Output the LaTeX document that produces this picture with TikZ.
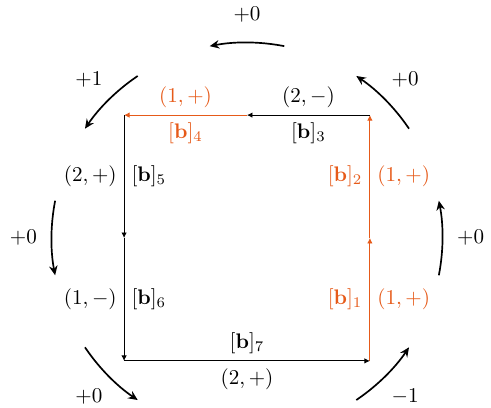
\documentclass[tikz,border=0pt]{standalone}
\usepackage{amsmath}
\usepackage{amssymb}
\usepackage{tikz}
\usetikzlibrary{arrows.meta}
\definecolor{hl}{RGB}{230,90,25}
\def\bb#1{[\mathbf{b}]_{#1}}

\begin{document}
\begin{tikzpicture}[
    seg/.style={-{Latex[length=2.6pt,width=2.6pt]}},
    turn/.style={thick,-{Stealth[length=4.5pt,width=4pt]}},
  ]
  \useasboundingbox (-4.12,-2.82) rectangle (4.07,3.97);

  \coordinate (br) at ( 2.05,-2.05);
  \coordinate (rm) at ( 2.05, 0);
  \coordinate (tr) at ( 2.05, 2.05);
  \coordinate (tm) at ( 0, 2.05);
  \coordinate (tl) at (-2.05, 2.05);
  \coordinate (lm) at (-2.05, 0);
  \coordinate (bl) at (-2.05,-2.05);

  \draw[seg,hl] (br) -- (rm) node[midway,left] (b1) {$\bb1$} node[midway,right] (s1) {$(1,+)$}; % 1
  \draw[seg,hl] (rm) -- (tr) node[midway,left] (b2) {$\bb2$} node[midway,right] (s2) {$(1,+)$}; % 2
  \draw[seg] (tr) -- (tm) node[midway,above] (s3) {$(2,-)$} node[midway,below] (b3) {$\bb3$}; % 3
  \draw[seg,hl] (tm) -- (tl) node[midway,above] (s4) {$(1,+)$} node[midway,below] (b4) {$\bb4$}; % 4
  \draw[seg] (tl) -- (lm) node[midway,left] (s5) {$(2,+)$} node[midway,right] (b5) {$\bb5$}; % 5
  \draw[seg] (lm) -- (bl) node[midway,left] (s6) {$(1,-)$} node[midway,right] (b6) {$\bb6$}; % 6
  \draw[seg] (bl) -- (br) node[midway,above] (b7) {$\bb7$} node[midway,below] (s7) {$(2,+)$}; % 7

  % turning arrows round the square
  \foreach \a/\t [count=\i] in {-45/$-1$, 0/$+0$, 45/$+0$, 90/$+0$, 135/$+1$, 180/$+0$, 225/$+0$} {
    \draw[turn] (\a-11:3.26) arc[start angle=\a-11, end angle=\a+11, radius=3.26];
    \node (t\i) at (\a:3.73) {\t};
  }

\end{tikzpicture}
\end{document}
